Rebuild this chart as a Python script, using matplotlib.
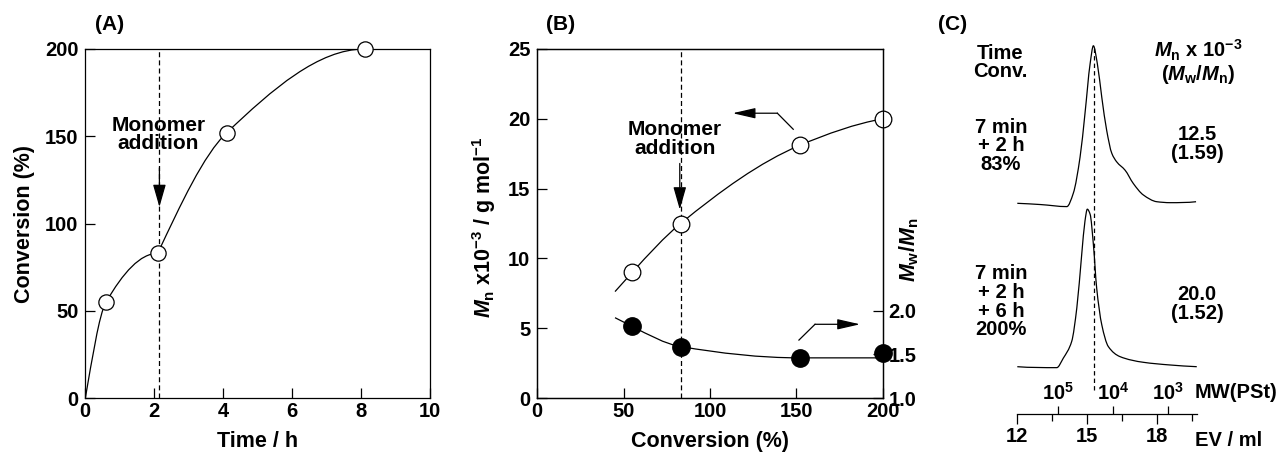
import numpy as np
import matplotlib
matplotlib.use("Agg")
import matplotlib.pyplot as plt
from matplotlib.path import Path
from matplotlib.patches import PathPatch

plt.rcParams['font.family'] = ['Liberation Sans', 'DejaVu Sans']
plt.rcParams['font.weight'] = 'bold'
plt.rcParams['axes.labelweight'] = 'bold'
plt.rcParams['mathtext.fontset'] = 'custom'
plt.rcParams['mathtext.rm'] = 'Liberation Sans:bold'
plt.rcParams['mathtext.it'] = 'Liberation Sans:italic:bold'
plt.rcParams['mathtext.bf'] = 'Liberation Sans:bold'
plt.rcParams['axes.linewidth'] = 0.9

# (A) conversion vs time
time_h = [0.6, 2.1, 4.1, 8.1]
conv_a = [55, 83, 152, 200]
addition_time = 2.13

# (B) Mn and Mw/Mn vs conversion
conv_b = [55, 83, 152, 200]
mn_b = [9.0, 12.5, 18.1, 20.0]
mwmn_b = [1.82, 1.59, 1.46, 1.52]
addition_conv = 83

# (C) GPC traces (elution volume / ml, normalised RI signal)
ev_83 = [12.0, 13.0, 14.12, 14.40, 14.69, 14.90, 15.12, 15.26, 15.43, 15.62,
         15.83, 16.05, 16.26, 16.62, 16.97, 17.40, 17.98, 18.55, 19.66]
ri_83 = [0, -0.8, -2.1, 6.4, 29.4, 57, 88.6, 100, 88.6, 67.3,
         46.3, 31.7, 26.3, 21.0, 12.6, 5.3, 1.0, 0.4, 1.0]
ev_200 = [12.0, 13.69, 13.97, 14.33, 14.55, 14.76, 14.90, 15.00, 15.12, 15.26,
          15.40, 15.62, 15.90, 16.40, 17.40, 18.54, 19.69]
ri_200 = [0, -0.6, 5.4, 16.0, 37.3, 71.3, 92.5, 100, 96.8, 77.7,
          50.1, 26.6, 12.8, 6.4, 2.8, 1.1, 0]
peak_ev = 15.28
gpc_time = ['7 min\n+ 2 h', '7 min\n+ 2 h\n+ 6 h']
gpc_conv = [83, 200]
gpc_mn = [12.5, 20.0]
gpc_pdi = [1.59, 1.52]
ev_ticks = [12, 15, 18]
ev_minor = [13.5, 16.5, 19.5]
mw_ev = [13.73, 16.09, 18.45]
mw_labels = ['10$^5$', '10$^4$', '10$^3$']


def hermite_path(x, y, lead=None, tail=None):
    x = np.asarray(x, float)
    y = np.asarray(y, float)
    h = np.diff(x)
    d = np.diff(y) / h
    m = np.zeros(len(x))
    for i in range(1, len(x) - 1):
        if d[i - 1] * d[i] > 0:
            w1, w2 = 2 * h[i] + h[i - 1], h[i] + 2 * h[i - 1]
            m[i] = (w1 + w2) / (w1 / d[i - 1] + w2 / d[i])

    def end_slope(h0, h1, d0, d1):
        s = ((2 * h0 + h1) * d0 - h0 * d1) / (h0 + h1)
        if s * d0 <= 0:
            return 0.0
        if d0 * d1 < 0 and abs(s) > abs(3 * d0):
            return 3 * d0
        return s

    m[0] = end_slope(h[0], h[1], d[0], d[1])
    m[-1] = end_slope(h[-1], h[-2], d[-1], d[-2])
    verts, codes = [], []
    if lead is not None:
        verts += [(lead, y[0] - m[0] * (x[0] - lead)), (x[0], y[0])]
        codes += [Path.MOVETO, Path.LINETO]
    else:
        verts.append((x[0], y[0]))
        codes.append(Path.MOVETO)
    for i in range(len(h)):
        verts += [(x[i] + h[i] / 3, y[i] + m[i] * h[i] / 3),
                  (x[i + 1] - h[i] / 3, y[i + 1] - m[i + 1] * h[i] / 3),
                  (x[i + 1], y[i + 1])]
        codes += [Path.CURVE4] * 3
    if tail is not None:
        verts.append((tail, y[-1] + m[-1] * (tail - x[-1])))
        codes.append(Path.LINETO)
    return Path(verts, codes)


def curve(ax, path, **kw):
    ax.add_patch(PathPatch(path, fill=False, ec='k', lw=0.9, **kw))


W, H = 1284, 454
fig = plt.figure(figsize=(W / 100, H / 100), dpi=100)


def px_axes(l, t, r, b):
    return fig.add_axes([l / W, 1 - b / H, (r - l) / W, (b - t) / H])


def fig_text(x, y, s, **kw):
    fig.text(x / W, 1 - y / H, s, **kw)


tick_kw = dict(direction='in', length=7, width=0.9, labelsize=14.5)
arrow_kw = dict(arrowstyle='-|>,head_length=0.7,head_width=0.2', lw=0.9,
                color='k', shrinkA=0, shrinkB=0, mutation_scale=20)

# ---------------- (A)
axa = px_axes(85.3, 49, 430, 398.3)
axa.set_xlim(0, 10)
axa.set_ylim(0, 200)
axa.set_xticks([0, 2, 4, 6, 8, 10])
axa.set_yticks([0, 50, 100, 150, 200])
axa.tick_params(axis='x', pad=3, **tick_kw)
axa.tick_params(axis='y', pad=5, **tick_kw)
axa.axvline(addition_time, color='k', lw=0.9, ls=(0, (4, 2.5)))
curve(axa, hermite_path([0] + time_h[:2], [0] + conv_a[:2]))
curve(axa, hermite_path(time_h[1:], conv_a[1:]))
axa.plot(time_h, conv_a, 'o', ms=11, mfc='white', mec='k', mew=0.9,
         clip_on=False, zorder=5)
axa.text(2.12, 151, 'Monomer\naddition', ha='center', va='center',
         fontsize=15, linespacing=0.95)
axa.annotate('', xy=(2.15, 109.5), xytext=(2.15, 132), arrowprops=arrow_kw)
axa.set_xlabel('Time / h', fontsize=15.5)
axa.set_ylabel('Conversion (%)', fontsize=15.5)
axa.xaxis.set_label_coords(0.5, -0.095)
axa.yaxis.set_label_coords(-0.145, 0.5)

# ---------------- (B)
axb = px_axes(537.3, 49, 882.7, 398)
axb.set_xlim(0, 200)
axb.set_ylim(0, 25)
axb.set_xticks([0, 50, 100, 150, 200])
axb.set_yticks([0, 5, 10, 15, 20, 25])
axb.tick_params(axis='x', pad=3, **tick_kw)
axb.tick_params(axis='y', pad=5, **tick_kw)
axb.axvline(addition_conv, color='k', lw=0.9, ls=(0, (4, 2.5)))
curve(axb, hermite_path(conv_b, mn_b, lead=45))
axb.plot(conv_b, mn_b, 'o', ms=12, mfc='white', mec='k', mew=0.9,
         clip_on=False, zorder=5)
axb.text(79.5, 18.55, 'Monomer\naddition', ha='center', va='center',
         fontsize=15, linespacing=0.95)
axb.annotate('', xy=(82.5, 13.5), xytext=(82.5, 16.8), arrowprops=arrow_kw)
side_kw = dict(arrow_kw, arrowstyle='-|>,head_length=0.7,head_width=0.16')
axb.plot([148.2, 139.0], [19.25, 20.4], 'k-', lw=0.9)
axb.annotate('', xy=(113.1, 20.4), xytext=(139.0, 20.4), arrowprops=side_kw)
axb.plot([151.5, 160.8], [4.15, 5.28], 'k-', lw=0.9)
axb.annotate('', xy=(186.9, 5.28), xytext=(160.8, 5.28), arrowprops=side_kw)
axb.set_xlabel('Conversion (%)', fontsize=15.5)
axb.set_ylabel(r'$M_\mathrm{n}$ x10$^{-3}$ / g mol$^{-1}$', fontsize=15.5)
axb.xaxis.set_label_coords(0.5, -0.095)
axb.yaxis.set_label_coords(-0.115, 0.49)

axr = axb.twinx()
axr.set_ylim(1, 5)
axr.set_yticks([1.0, 1.5, 2.0])
axr.set_yticklabels(['1.0', '1.5', '2.0'])
axr.tick_params(axis='y', pad=4, **tick_kw)
curve(axr, hermite_path(conv_b[:3], mwmn_b[:3], lead=45, tail=200))
axr.plot(conv_b, mwmn_b, 'o', ms=12.5, mfc='k', mec='k', clip_on=False,
         zorder=5)
axr.set_ylabel(r'$M_\mathrm{w}/M_\mathrm{n}$', fontsize=15.5)
axr.yaxis.set_label_coords(1.044, 0.424)

# ---------------- (C)
axc = px_axes(1017.3, 40, 1197, 414)
axc.set_xlim(12, 19.7)
axc.set_ylim(0, 374)
for s in ['top', 'left', 'right']:
    axc.spines[s].set_visible(False)
axc.set_yticks([])
axc.set_xticks(ev_ticks)
axc.set_xticks(ev_minor, minor=True)
axc.tick_params(axis='x', which='major', direction='out', length=7.5,
                width=0.9, labelsize=14.5, pad=2)
axc.tick_params(axis='x', which='minor', direction='out', length=5, width=0.9)
axc.patch.set_visible(False)

for ev, ri, base in [(ev_83, ri_83, 210.7), (ev_200, ri_200, 47.3)]:
    curve(axc, hermite_path(ev, base + 1.575 * np.asarray(ri)))
axc.plot([peak_ev, peak_ev], [24, 369], color='k', lw=0.9, ls=(0, (3.5, 2.5)))

axm = axc.twiny()
axm.set_xlim(axc.get_xlim())
for s in ['bottom', 'left', 'right']:
    axm.spines[s].set_visible(False)
axm.spines['top'].set_position(('axes', 0))
axm.spines['top'].set_visible(False)
axm.set_xticks(mw_ev)
axm.set_xticklabels(mw_labels)
axm.tick_params(axis='x', direction='out', length=6, width=0.9,
                labelsize=14.5, pad=1)
axm.patch.set_visible(False)

fig_text(1195, 440, 'EV / ml', fontsize=14.5, va='center', ha='left')
fig_text(1195, 392, 'MW(PSt)', fontsize=14.5, va='center', ha='left')

txt_kw = dict(fontsize=14.5, ha='center', va='center', linespacing=0.98)
fig_text(1000, 62.5, 'Time\nConv.', **txt_kw)
fig_text(1198, 62, r'$M_\mathrm{n}$ x 10$^{-3}$' + '\n' +
         r'($M_\mathrm{w}/M_\mathrm{n}$)', **txt_kw)
for t, c, mn, pdi, yc, yr in zip(gpc_time, gpc_conv, gpc_mn, gpc_pdi,
                                 [145.8, 301.7], [144, 304]):
    fig_text(1001, yc, f'{t}\n{c}%', **txt_kw)
    fig_text(1197, yr, f'{mn:.1f}\n({pdi:.2f})', **txt_kw)

# panel labels
fig_text(110, 25, '(A)', fontsize=15, ha='center', va='center')
fig_text(561, 25, '(B)', fontsize=15, ha='center', va='center')
fig_text(953, 25, '(C)', fontsize=15, ha='center', va='center')

fig.savefig('out.png', dpi=100)
